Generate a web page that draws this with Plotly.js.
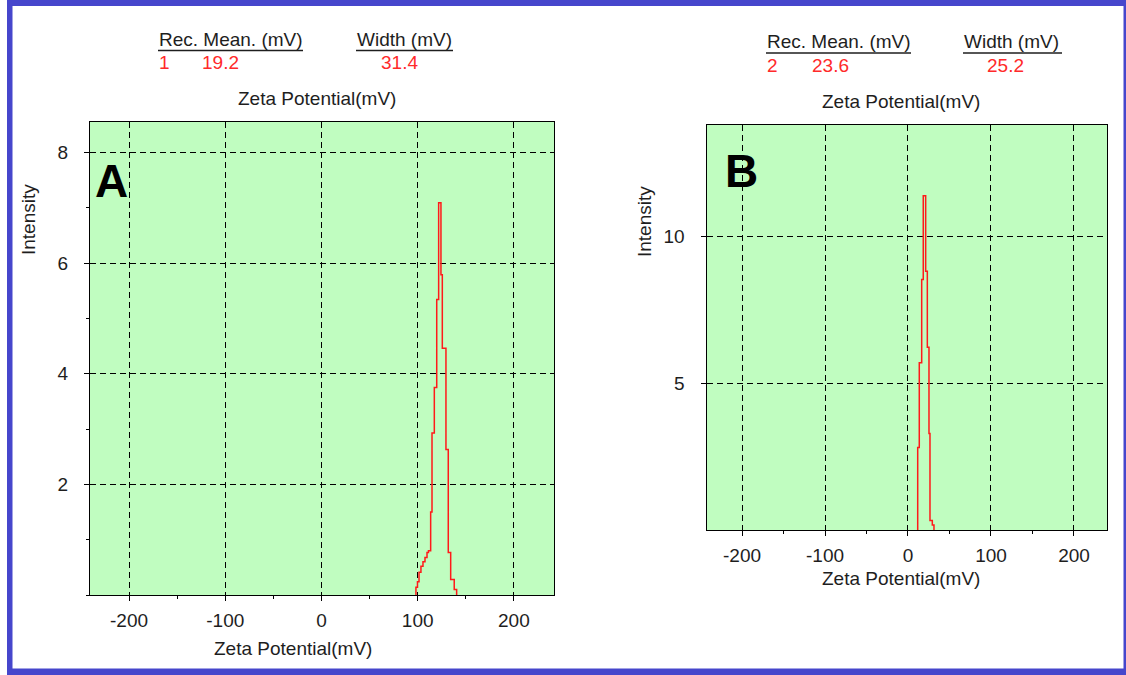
<!DOCTYPE html>
<html>
<head>
<meta charset="utf-8">
<script src="https://cdn.plot.ly/plotly-3.0.1.min.js"></script>
<style>
  html, body { margin: 0; padding: 0; background: #ffffff; }
  #chart { width: 1126px; height: 675px; }
</style>
</head>
<body>
<div id="chart"></div>
<script>
// ---- data ----
// Panel A: histogram bin edges (mV) and intensities
const aEdges = [98.2, 99.8, 101.4, 103.4, 105.5, 107.6, 109.7, 111.2, 113.5, 114.9, 117.3, 119.8, 121.8, 124.2, 125.6, 129.4, 131.8, 134.3, 138.0, 140.5];
const aHeights = [0.14, 0.24, 0.41, 0.52, 0.60, 0.68, 0.77, 0.80, 1.50, 2.93, 3.75, 5.34, 7.09, 5.79, 4.46, 2.63, 0.77, 0.28, 0.10];
// Panel B
const bEdges = [11.7, 13.6, 16.5, 18.4, 21.3, 23.3, 25.3, 26.5, 29.3, 31.3];
const bHeights = [2.81, 5.70, 8.54, 11.40, 8.82, 6.23, 3.29, 0.32, 0.17];

const xTickVals = [-200, -100, 0, 100, 200];
const xTickText = ["-200", "-100", "0", "100", "200"];
const aYTickVals = [2, 4, 6, 8];
const aYTickText = ["2", "4", "6", "8"];
const bYTickVals = [5, 10];
const bYTickText = ["5", "10"];

const aRecord = "1", aMean = "19.2", aWidth = "31.4";
const bRecord = "2", bMean = "23.6", bWidth = "25.2";

const headerMean = "Rec. Mean. (mV)";
const headerWidth = "Width (mV)";
const xTitle = "Zeta Potential(mV)";
const yTitle = "Intensity";

// ---- helpers ----
const W = 1126, H = 675;
const px = x => x / W;
const py = y => 1 - y / H;

function stepTrace(edges, heights, xa, ya) {
  return {
    x: [edges[0]].concat(edges),
    y: [0].concat(heights).concat([0]),
    xaxis: xa, yaxis: ya,
    type: 'scatter', mode: 'lines',
    line: { shape: 'hv', color: '#ff1a1a', width: 1.5 },
    hoverinfo: 'skip', showlegend: false
  };
}

const FONT = 'Liberation Sans, Arial, sans-serif';
const TXT = '#1e1e1e';
const RED = '#ff2a2a';

function axisStyle(extra) {
  return Object.assign({
    showline: true, mirror: true, linecolor: '#000', linewidth: 1,
    showgrid: true, gridcolor: '#000', gridwidth: 1, griddash: '6px,4px',
    zeroline: false, ticks: 'outside', ticklen: 5, tickcolor: '#000', tickwidth: 1,
    tickfont: { family: FONT, size: 19, color: TXT },
    fixedrange: true
  }, extra);
}

function ann(text, x, y, opts) {
  return Object.assign({
    text: text, x: px(x), y: py(y), xref: 'paper', yref: 'paper',
    showarrow: false, xanchor: 'left', yanchor: 'middle',
    font: { family: FONT, size: 19, color: TXT }
  }, opts || {});
}

const data = [
  stepTrace(aEdges, aHeights, 'x', 'y'),
  stepTrace(bEdges, bHeights, 'x2', 'y2')
];

const annotations = [
  // Panel A header
  ann(headerMean, 157, 40),
  ann(headerWidth, 355, 40),
  ann(aRecord, 157, 62, { font: { family: FONT, size: 19, color: RED } }),
  ann(aMean, 200, 62, { font: { family: FONT, size: 19, color: RED } }),
  ann(aWidth, 379, 62, { font: { family: FONT, size: 19, color: RED } }),
  ann(xTitle, 317, 98, { xanchor: 'center' }),
  ann(xTitle, 292.5, 648, { xanchor: 'center' }),
  ann(yTitle, 28, 220, { xanchor: 'center', textangle: -90 }),
  ann('<b>A</b>', 111, 181, { xanchor: 'center', font: { family: FONT, size: 46, color: '#000' } }),
  // Panel B header
  ann(headerMean, 765, 42),
  ann(headerWidth, 962, 42),
  ann(bRecord, 765, 65, { font: { family: FONT, size: 19, color: RED } }),
  ann(bMean, 810, 65, { font: { family: FONT, size: 19, color: RED } }),
  ann(bWidth, 985, 65, { font: { family: FONT, size: 19, color: RED } }),
  ann(xTitle, 901, 102, { xanchor: 'center' }),
  ann(xTitle, 901, 578, { xanchor: 'center' }),
  ann(yTitle, 644, 222, { xanchor: 'center', textangle: -90 }),
  ann('<b>B</b>', 741, 171, { xanchor: 'center', font: { family: FONT, size: 46, color: '#000' } })
];

const BLUE = '#4646cc';
function frameRect(x0, y0, x1, y1) {
  return { type: 'rect', xref: 'paper', yref: 'paper', x0: px(x0), x1: px(x1), y0: py(y1), y1: py(y0),
           fillcolor: BLUE, line: { width: 0 }, layer: 'above' };
}
function underline(x0, x1, y) {
  return { type: 'line', xref: 'paper', yref: 'paper', x0: px(x0), x1: px(x1), y0: py(y), y1: py(y),
           line: { color: TXT, width: 1.5 } };
}

const layout = {
  width: W, height: H,
  margin: { l: 0, r: 0, t: 0, b: 0, pad: 0 },
  paper_bgcolor: '#ffffff',
  plot_bgcolor: '#c0fdc0',
  showlegend: false,
  xaxis: axisStyle({ domain: [px(90), px(554)], range: [-240.6, 241.7], anchor: 'y',
    tickvals: xTickVals, ticktext: xTickText, ticklabelstandoff: 3,
    minor: { ticks: 'outside', ticklen: 3, dtick: 50, tick0: 0, tickcolor: '#000', showgrid: false } }),
  yaxis: axisStyle({ domain: [py(595), py(122)], range: [0, 8.55], anchor: 'x',
    tickvals: aYTickVals, ticktext: aYTickText, ticklabelstandoff: 12,
    minor: { ticks: 'outside', ticklen: 3, dtick: 1, tick0: 0, tickcolor: '#000', showgrid: false } }),
  xaxis2: axisStyle({ domain: [px(706.5), px(1107)], range: [-242.8, 239.8], anchor: 'y2',
    tickvals: xTickVals, ticktext: xTickText, ticklabelstandoff: 3,
    minor: { ticks: 'outside', ticklen: 3, dtick: 50, tick0: 0, tickcolor: '#000', showgrid: false } }),
  yaxis2: axisStyle({ domain: [py(530), py(125)], range: [0, 13.81], anchor: 'x2',
    tickvals: bYTickVals, ticktext: bYTickText, ticklabelstandoff: 12 }),
  annotations: annotations,
  shapes: [
    underline(158, 303, 50.5),
    underline(356, 453, 50.5),
    underline(766, 911, 53),
    underline(963, 1062, 53),
    frameRect(7, 0, 12.5, 675),
    frameRect(7, 0, 1126, 6),
    frameRect(1123.5, 0, 1126, 675),
    frameRect(7, 668.5, 1126, 675)
  ]
};

Plotly.newPlot('chart', data, layout, { displayModeBar: false, staticPlot: true });
</script>
</body>
</html>
